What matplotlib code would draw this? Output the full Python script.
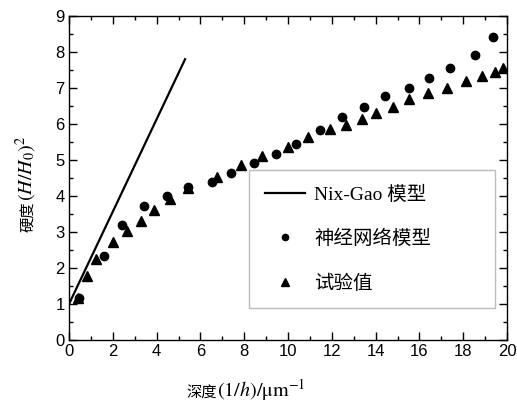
import matplotlib
matplotlib.use("Agg")
import matplotlib.pyplot as plt
from matplotlib.ticker import MultipleLocator

# Nix-Gao model line
nix_x = [0.0, 5.3]
nix_y = [1.0, 7.8]

# neural network model (circles)
nn_x = [0.46, 1.60, 2.44, 3.42, 4.46, 5.42, 6.53, 7.38, 8.46, 9.45,
        10.36, 11.46, 12.45, 13.47, 14.44, 15.53, 16.45, 17.41, 18.54, 19.36]
nn_y = [1.16, 2.33, 3.19, 3.73, 4.00, 4.25, 4.40, 4.65, 4.93, 5.18,
        5.44, 5.83, 6.19, 6.46, 6.77, 7.00, 7.27, 7.55, 7.92, 8.42]

# experimental values (triangles)
exp_x = [0.43, 0.81, 1.22, 2.02, 2.63, 3.29, 3.90, 4.61, 5.45, 6.74,
         7.85, 8.83, 10.01, 10.90, 11.92, 12.65, 13.36, 14.02, 14.81, 15.54,
         16.38, 17.25, 18.13, 18.84, 19.45, 19.83]
exp_y = [1.16, 1.79, 2.25, 2.71, 3.03, 3.31, 3.61, 3.92, 4.23, 4.52,
         4.86, 5.11, 5.37, 5.65, 5.86, 5.98, 6.15, 6.30, 6.48, 6.70,
         6.87, 7.00, 7.20, 7.33, 7.45, 7.55]

labels = ["Nix-Gao 模型", "神经网络模型", "试验值"]

plt.rcParams["mathtext.fontset"] = "stix"
cjk = ["Liberation Serif", "Noto Sans CJK SC"]

W, H = 517, 408
fig = plt.figure(figsize=(W / 100, H / 100), dpi=100)
ax = fig.add_axes([0.1335, 0.1667, 0.8472, 0.7941])

ax.plot(nix_x, nix_y, color="black", lw=1.6, label=labels[0])
ax.plot(nn_x, nn_y, "o", color="black", ms=6, ls="none", label=labels[1])
ax.plot(exp_x, exp_y, "^", color="black", ms=7, ls="none", label=labels[2])

ax.set_xlim(0, 20)
ax.set_ylim(0, 9)
ax.xaxis.set_major_locator(MultipleLocator(2))
ax.xaxis.set_minor_locator(MultipleLocator(1))
ax.yaxis.set_major_locator(MultipleLocator(1))
ax.yaxis.set_minor_locator(MultipleLocator(0.5))
ax.tick_params(which="both", direction="in", top=True, right=True, width=1)
ax.tick_params(which="major", length=6, labelsize=12, pad=3)
ax.tick_params(which="minor", length=3)
for lab in ax.get_xticklabels() + ax.get_yticklabels():
    lab.set_family("Liberation Sans")
for sp in ax.spines.values():
    sp.set_linewidth(1)

# axis labels: CJK part and math part drawn separately (different sizes)
def px(x, y):
    return x / W, 1 - y / H

fig.text(*px(217, 397), "深度", family="Noto Sans CJK SC", fontsize=11,
         ha="right", va="baseline")
fig.text(*px(217, 397), r"$(1/\mathit{h})/\mathrm{\mu m}^{-1}$", fontsize=14.5,
         ha="left", va="baseline")
fig.text(*px(33, 201), "硬度", family="Noto Sans CJK SC", fontsize=11,
         rotation=90, rotation_mode="anchor", ha="right", va="baseline")
fig.text(*px(33, 201), r"$(\mathit{H}/\mathit{H}_0)^2$", fontsize=14.5,
         rotation=90, rotation_mode="anchor", ha="left", va="baseline")

leg = ax.legend(loc="upper left", bbox_to_anchor=(0.411, 0.093, 0.562, 0.432),
                mode="expand", prop={"family": cjk, "size": 14}, frameon=True,
                fancybox=False, edgecolor="#aaaaaa", labelspacing=1.35,
                handlelength=2.06, handletextpad=0.5, borderpad=0.8,
                borderaxespad=0, markerscale=0.75)
leg.get_frame().set_linewidth(1)

fig.savefig("out.png", dpi=100)
